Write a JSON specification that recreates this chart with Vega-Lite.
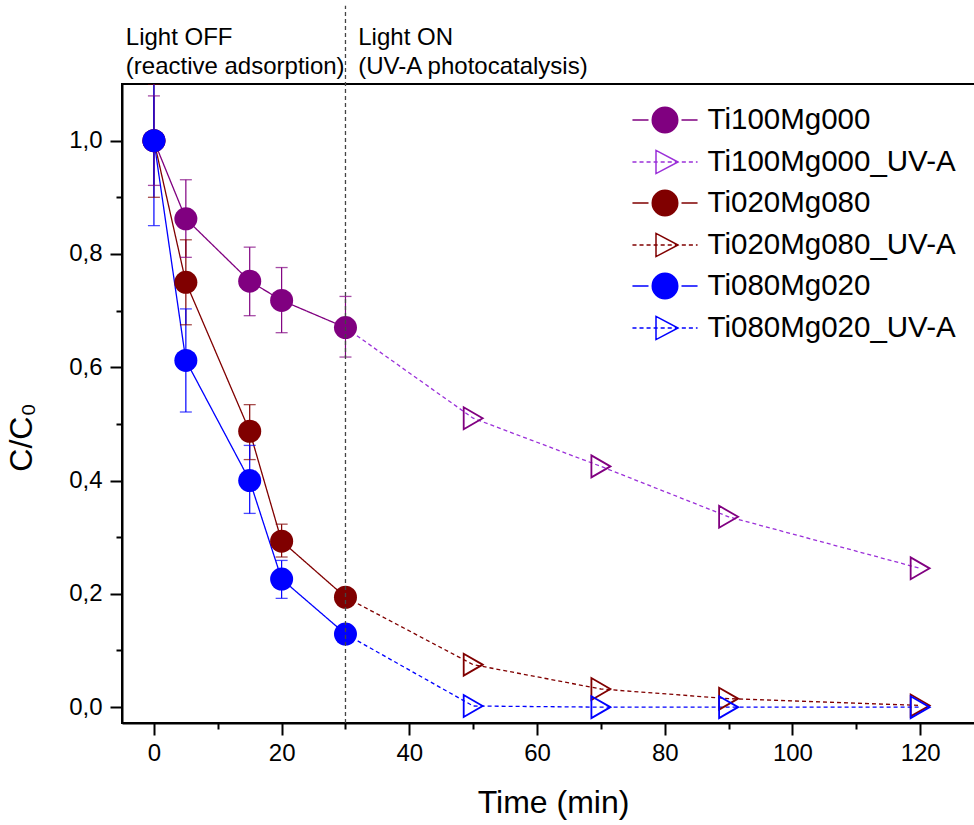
{
  "$schema": "https://vega.github.io/schema/vega-lite/v6.json",
  "width": 862,
  "height": 639,
  "autosize": {"type": "none"},
  "padding": {"left": 122, "top": 84, "right": 0, "bottom": 102},
  "background": "white",
  "config": {
    "view": {"stroke": "black", "strokeWidth": 2},
    "font": "Liberation Sans",
    "axis": {"grid": false, "domainColor": "black", "domainWidth": 2, "tickColor": "black", "tickWidth": 2, "labelColor": "black", "titleColor": "black", "labelFont": "Liberation Sans", "titleFont": "Liberation Sans", "titleFontWeight": "normal"},
    "legend": {"symbolSize": 900, "symbolStrokeWidth": 1.5, "labelFontSize": 29.5, "labelFont": "Liberation Sans", "labelColor": "black", "labelOffset": 26.5, "labelLimit": 0, "rowPadding": 10, "padding": 0, "symbolOpacity": 1}
  },
  "datasets": {
    "main": [
      {"sample": "Ti100Mg000", "series": "Ti100Mg000", "phase": "dark", "t": 0, "c": 1.0, "lo": 0.921, "hi": 1.079},
      {"sample": "Ti100Mg000", "series": "Ti100Mg000", "phase": "dark", "t": 5, "c": 0.862, "lo": 0.794, "hi": 0.931},
      {"sample": "Ti100Mg000", "series": "Ti100Mg000", "phase": "dark", "t": 15, "c": 0.752, "lo": 0.691, "hi": 0.812},
      {"sample": "Ti100Mg000", "series": "Ti100Mg000", "phase": "dark", "t": 20, "c": 0.718, "lo": 0.661, "hi": 0.776},
      {"sample": "Ti100Mg000", "series": "Ti100Mg000", "phase": "dark", "t": 30, "c": 0.670, "lo": 0.618, "hi": 0.725},
      {"sample": "Ti020Mg080", "series": "Ti020Mg080", "phase": "dark", "t": 0, "c": 1.0, "lo": 0.900, "hi": 1.100},
      {"sample": "Ti020Mg080", "series": "Ti020Mg080", "phase": "dark", "t": 5, "c": 0.750, "lo": 0.675, "hi": 0.825},
      {"sample": "Ti020Mg080", "series": "Ti020Mg080", "phase": "dark", "t": 15, "c": 0.487, "lo": 0.437, "hi": 0.534},
      {"sample": "Ti020Mg080", "series": "Ti020Mg080", "phase": "dark", "t": 20, "c": 0.293, "lo": 0.265, "hi": 0.323},
      {"sample": "Ti020Mg080", "series": "Ti020Mg080", "phase": "dark", "t": 30, "c": 0.194, "lo": 0.186, "hi": 0.202},
      {"sample": "Ti080Mg020", "series": "Ti080Mg020", "phase": "dark", "t": 0, "c": 1.0, "lo": 0.850, "hi": 1.150},
      {"sample": "Ti080Mg020", "series": "Ti080Mg020", "phase": "dark", "t": 5, "c": 0.612, "lo": 0.521, "hi": 0.703},
      {"sample": "Ti080Mg020", "series": "Ti080Mg020", "phase": "dark", "t": 15, "c": 0.400, "lo": 0.342, "hi": 0.462},
      {"sample": "Ti080Mg020", "series": "Ti080Mg020", "phase": "dark", "t": 20, "c": 0.226, "lo": 0.192, "hi": 0.259},
      {"sample": "Ti080Mg020", "series": "Ti080Mg020", "phase": "dark", "t": 30, "c": 0.129, "lo": 0.121, "hi": 0.137},
      {"sample": "Ti100Mg000", "series": "Ti100Mg000_UV-A", "phase": "UV-A", "t": 30, "c": 0.670},
      {"sample": "Ti100Mg000", "series": "Ti100Mg000_UV-A", "phase": "UV-A", "t": 50, "c": 0.510},
      {"sample": "Ti100Mg000", "series": "Ti100Mg000_UV-A", "phase": "UV-A", "t": 70, "c": 0.425},
      {"sample": "Ti100Mg000", "series": "Ti100Mg000_UV-A", "phase": "UV-A", "t": 90, "c": 0.336},
      {"sample": "Ti100Mg000", "series": "Ti100Mg000_UV-A", "phase": "UV-A", "t": 120, "c": 0.245},
      {"sample": "Ti020Mg080", "series": "Ti020Mg080_UV-A", "phase": "UV-A", "t": 30, "c": 0.194},
      {"sample": "Ti020Mg080", "series": "Ti020Mg080_UV-A", "phase": "UV-A", "t": 50, "c": 0.075},
      {"sample": "Ti020Mg080", "series": "Ti020Mg080_UV-A", "phase": "UV-A", "t": 70, "c": 0.032},
      {"sample": "Ti020Mg080", "series": "Ti020Mg080_UV-A", "phase": "UV-A", "t": 90, "c": 0.015},
      {"sample": "Ti020Mg080", "series": "Ti020Mg080_UV-A", "phase": "UV-A", "t": 120, "c": 0.003},
      {"sample": "Ti080Mg020", "series": "Ti080Mg020_UV-A", "phase": "UV-A", "t": 30, "c": 0.129},
      {"sample": "Ti080Mg020", "series": "Ti080Mg020_UV-A", "phase": "UV-A", "t": 50, "c": 0.002},
      {"sample": "Ti080Mg020", "series": "Ti080Mg020_UV-A", "phase": "UV-A", "t": 70, "c": 0.0},
      {"sample": "Ti080Mg020", "series": "Ti080Mg020_UV-A", "phase": "UV-A", "t": 90, "c": 0.0},
      {"sample": "Ti080Mg020", "series": "Ti080Mg020_UV-A", "phase": "UV-A", "t": 120, "c": 0.0}
    ],
    "vline": [{"t": 30, "y1": -0.028, "y2": 1.238}],
    "notes": [
      {"t": -4.4, "y": 1.182, "label": "Light OFF"},
      {"t": -4.4, "y": 1.13, "label": "(reactive adsorption)"},
      {"t": 32.0, "y": 1.182, "label": "Light ON"},
      {"t": 32.0, "y": 1.13, "label": "(UV-A photocatalysis)"}
    ]
  },
  "resolve": {"axis": {"x": "independent", "y": "independent"}, "scale": {"x": "shared", "y": "shared"}},
  "layer": [
    {
      "data": {"name": "main"},
      "mark": {"type": "line", "strokeWidth": 1.3},
      "encoding": {
        "x": {"field": "t", "type": "quantitative", "scale": {"domain": [-5, 130], "nice": false, "zero": false},
          "axis": {"orient": "bottom", "values": [0, 20, 40, 60, 80, 100, 120], "format": "d", "tickSize": 12, "labelFontSize": 24, "labelPadding": 6, "title": "Time (min)", "titleFontSize": 32, "titlePadding": 22}},
        "y": {"field": "c", "type": "quantitative", "scale": {"domain": [-0.028, 1.1], "nice": false, "zero": false},
          "axis": {"orient": "left", "values": [0, 0.2, 0.4, 0.6, 0.8, 1.0], "labelExpr": "replace(format(datum.value,'.1f'),'.',',')", "tickSize": 12, "labelFontSize": 24, "labelPadding": 8, "title": "C/C₀", "titleFontSize": 32, "titleX": -84, "titleY": 353}},
        "stroke": {"field": "series", "type": "nominal",
          "scale": {"domain": ["Ti100Mg000", "Ti100Mg000_UV-A", "Ti020Mg080", "Ti020Mg080_UV-A", "Ti080Mg020", "Ti080Mg020_UV-A"],
            "range": ["#800080", "#9B30D9", "#800000", "#800000", "#0000FF", "#0000FF"]},
          "legend": {"title": null, "orient": "none", "legendX": 527, "legendY": 20}},
        "strokeDash": {"field": "phase", "type": "nominal", "legend": null, "scale": {"domain": ["dark", "UV-A"], "range": [[1, 0], [4, 3]]}},
        "detail": {"field": "series"}
      }
    },
    {
      "data": {"name": "main"},
      "transform": [{"filter": "isValid(datum.lo)"}],
      "mark": {"type": "rule", "strokeWidth": 1.2, "clip": true},
      "encoding": {
        "x": {"field": "t", "type": "quantitative",
          "axis": {"orient": "bottom", "values": [10, 30, 50, 70, 90, 110], "tickSize": 6, "labels": false, "domain": false, "title": null}},
        "y": {"field": "lo", "type": "quantitative",
          "axis": {"orient": "left", "values": [0.1, 0.3, 0.5, 0.7, 0.9], "tickSize": 6, "labels": false, "domain": false, "title": null}},
        "y2": {"field": "hi"},
        "color": {"field": "sample", "type": "nominal", "legend": null,
          "scale": {"domain": ["Ti100Mg000", "Ti020Mg080", "Ti080Mg020"], "range": ["#800080", "#800000", "#0000FF"]}}
      }
    },
    {
      "data": {"name": "main"},
      "transform": [{"filter": "isValid(datum.lo)"}],
      "mark": {"type": "tick", "orient": "horizontal", "size": 12, "thickness": 1.3, "clip": true},
      "encoding": {
        "x": {"field": "t", "type": "quantitative", "axis": null},
        "y": {"field": "lo", "type": "quantitative", "axis": null},
        "color": {"field": "sample", "type": "nominal", "legend": null}
      }
    },
    {
      "data": {"name": "main"},
      "transform": [{"filter": "isValid(datum.hi)"}],
      "mark": {"type": "tick", "orient": "horizontal", "size": 12, "thickness": 1.3, "clip": true},
      "encoding": {
        "x": {"field": "t", "type": "quantitative", "axis": null},
        "y": {"field": "hi", "type": "quantitative", "axis": null},
        "color": {"field": "sample", "type": "nominal", "legend": null}
      }
    },
    {
      "data": {"name": "main"},
      "transform": [{"filter": "datum.phase === 'dark'"}],
      "mark": {"type": "point", "shape": "circle", "filled": true, "size": 530, "opacity": 1},
      "encoding": {
        "x": {"field": "t", "type": "quantitative", "axis": null},
        "y": {"field": "c", "type": "quantitative", "axis": null},
        "color": {"field": "sample", "type": "nominal", "legend": null}
      }
    },
    {
      "data": {"name": "main"},
      "transform": [{"filter": "datum.phase === 'UV-A' && datum.t > 30"}],
      "mark": {"type": "point", "shape": "triangle-right", "filled": false, "size": 480, "strokeWidth": 1.8, "opacity": 1},
      "encoding": {
        "x": {"field": "t", "type": "quantitative", "axis": null},
        "y": {"field": "c", "type": "quantitative", "axis": null},
        "color": {"field": "sample", "type": "nominal", "legend": null}
      }
    },
    {
      "data": {"name": "main"},
      "transform": [{"filter": "datum.t < -100"}],
      "mark": {"type": "point", "opacity": 1, "strokeWidth": 1.5},
      "encoding": {
        "x": {"field": "t", "type": "quantitative", "axis": null},
        "y": {"field": "c", "type": "quantitative", "axis": null},
        "shape": {"field": "series", "type": "nominal",
          "scale": {"domain": ["Ti100Mg000", "Ti100Mg000_UV-A", "Ti020Mg080", "Ti020Mg080_UV-A", "Ti080Mg020", "Ti080Mg020_UV-A"],
            "range": [
              "M-2.17,0L-1.1,0M1.1,0L2.17,0M-0.85,0A0.85,0.85,0,1,1,0.85,0A0.85,0.85,0,1,1,-0.85,0Z",
              "M-2.17,0L-1.9,0M-1.7,0L-1.43,0M-1.23,0L-0.96,0M-0.76,0L-0.49,0M-0.29,0L-0.02,0M0.18,0L0.45,0M0.65,0L0.92,0M1.12,0L1.39,0M1.59,0L1.86,0M2.06,0L2.17,0M-0.6,-0.77L0.87,0L-0.6,0.77Z",
              "M-2.17,0L-1.1,0M1.1,0L2.17,0M-0.85,0A0.85,0.85,0,1,1,0.85,0A0.85,0.85,0,1,1,-0.85,0Z",
              "M-2.17,0L-1.9,0M-1.7,0L-1.43,0M-1.23,0L-0.96,0M-0.76,0L-0.49,0M-0.29,0L-0.02,0M0.18,0L0.45,0M0.65,0L0.92,0M1.12,0L1.39,0M1.59,0L1.86,0M2.06,0L2.17,0M-0.6,-0.77L0.87,0L-0.6,0.77Z",
              "M-2.17,0L-1.1,0M1.1,0L2.17,0M-0.85,0A0.85,0.85,0,1,1,0.85,0A0.85,0.85,0,1,1,-0.85,0Z",
              "M-2.17,0L-1.9,0M-1.7,0L-1.43,0M-1.23,0L-0.96,0M-0.76,0L-0.49,0M-0.29,0L-0.02,0M0.18,0L0.45,0M0.65,0L0.92,0M1.12,0L1.39,0M1.59,0L1.86,0M2.06,0L2.17,0M-0.6,-0.77L0.87,0L-0.6,0.77Z"
            ]},
          "legend": {"title": null, "orient": "none", "legendX": 527, "legendY": 20}},
        "fill": {"field": "series", "type": "nominal",
          "scale": {"domain": ["Ti100Mg000", "Ti100Mg000_UV-A", "Ti020Mg080", "Ti020Mg080_UV-A", "Ti080Mg020", "Ti080Mg020_UV-A"],
            "range": ["#800080", "#ffffff", "#800000", "#ffffff", "#0000FF", "#ffffff"]},
          "legend": {"title": null, "orient": "none", "legendX": 527, "legendY": 20}},
        "stroke": {"field": "series", "type": "nominal",
          "legend": {"title": null, "orient": "none", "legendX": 527, "legendY": 20}}
      }
    },
    {
      "data": {"name": "vline"},
      "mark": {"type": "rule", "clip": false, "strokeDash": [4, 3], "color": "#444444", "strokeWidth": 1.3},
      "encoding": {
        "x": {"field": "t", "type": "quantitative", "axis": null},
        "y": {"field": "y1", "type": "quantitative", "axis": null},
        "y2": {"field": "y2"}
      }
    },
    {
      "data": {"name": "notes"},
      "mark": {"type": "text", "align": "left", "baseline": "middle", "fontSize": 24, "clip": false, "color": "black"},
      "encoding": {
        "x": {"field": "t", "type": "quantitative", "axis": null},
        "y": {"field": "y", "type": "quantitative", "axis": null},
        "text": {"field": "label"}
      }
    }
  ]
}
